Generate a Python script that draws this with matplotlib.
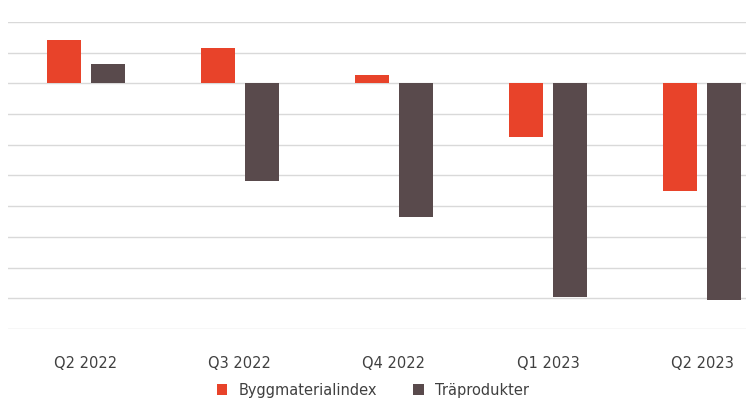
import matplotlib
matplotlib.use("Agg")
import matplotlib.pyplot as plt
import numpy as np

categories = ["Q2 2022", "Q3 2022", "Q4 2022", "Q1 2023", "Q2 2023"]
bygg = [1.4, 1.14, 0.26, -1.76, -3.49]
tra = [0.62, -3.19, -4.36, -6.97, -7.07]

W, H = 746, 419
fig = plt.figure(figsize=(W/100, H/100), dpi=100)
ax = fig.add_axes([8/W, 1-329/H, 738/W, 307/H])
x = np.arange(len(categories))
bw = 0.22
ax.bar(x-0.143, bygg, bw, color="#E8432A", label="Byggmaterialindex", zorder=3)
ax.bar(x+0.143, tra, bw, color="#594A4C", label="Träprodukter", zorder=3)
ax.set_xlim(-0.506, 4.286)
ax.set_ylim(-8, 2)
ax.set_yticks(np.arange(-8, 3, 1))
ax.yaxis.grid(True, color="#D9D9D9", lw=1, zorder=0)
ax.tick_params(left=False, bottom=False, labelleft=False, labelsize=10.5, colors="#404040", pad=16)
ax.set_xticks(x)
ax.set_xticklabels(categories)
for s in ax.spines.values():
    s.set_visible(False)
fig.legend(loc="center", bbox_to_anchor=(0.5, 1-390/H), ncol=2, frameon=False,
           fontsize=10.5, handlelength=0.7, handleheight=0.7, columnspacing=2.5,
           labelcolor="#404040")
fig.savefig("out.png", dpi=100)
